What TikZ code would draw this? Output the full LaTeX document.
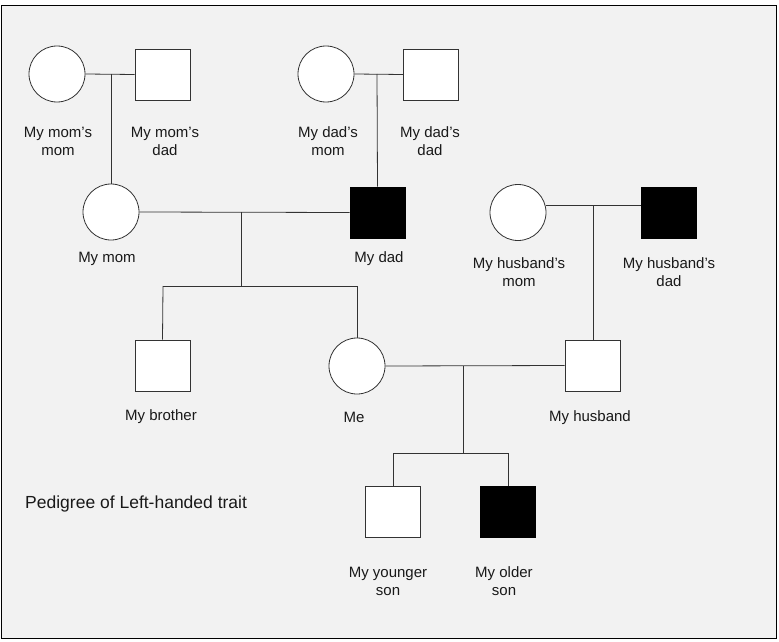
\documentclass[tikz,border=0pt]{standalone}
\usepackage{fontspec}
\setmainfont{Liberation Sans}
\definecolor{bgc}{HTML}{F2F2F2}
\definecolor{linec}{HTML}{333333}
\begin{document}
\begin{tikzpicture}[x=1pt,y=-1pt,
  female/.style={circle,draw=linec,line width=0.8pt,fill=white,minimum size=56pt,inner sep=0pt},
  male/.style={rectangle,draw=linec,line width=0.8pt,fill=white,minimum width=55pt,minimum height=51pt,inner sep=0pt},
  affected/.style={fill=black,draw=black},
  lbl/.style={font=\fontsize{15}{18}\selectfont,align=center,inner sep=0pt,text=black!90},
  conn/.style={draw=linec,line width=0.8pt}]
\useasboundingbox (0,0) rectangle (779,642);
\fill[white] (0,0) rectangle (779,642);
\draw[fill=bgc,line width=0.8pt] (1,5) rectangle (776,638);
% generation I
\node[female] (mm) at (57,74) {};
\node[male] (md) at (162.5,74.5) {};
\node[female] (dm) at (326,74) {};
\node[male] (dd) at (431,74.5) {};
% generation II
\node[female] (mom) at (111,212) {};
\node[male,affected] (dad) at (377.5,212.5) {};
\node[female] (hm) at (518,212.5) {};
\node[male,affected] (hd) at (669,212.5) {};
% generation III
\node[male] (bro) at (162.5,365.5) {};
\node[female] (me) at (357,366) {};
\node[male] (hus) at (592.5,365.5) {};
% generation IV
\node[male] (ys) at (393,512) {};
\node[male,affected] (os) at (508,512) {};
% labels
\node[lbl] (lmm) at (58,141) {My mom’s\\mom};
\node[lbl] (lmd) at (165,141) {My mom’s\\dad};
\node[lbl] (ldm) at (328,141) {My dad’s\\mom};
\node[lbl] (ldd) at (430,141) {My dad’s\\dad};
\node[lbl] (lmom) at (107,259) {My mom};
\node[lbl] (ldad) at (379,259) {My dad};
\node[lbl] (lhm) at (519,272) {My husband’s\\mom};
\node[lbl] (lhd) at (669,272) {My husband’s\\dad};
\node[lbl] (lbro) at (161,417) {My brother};
\node[lbl] (lme) at (354,417) {Me};
\node[lbl] (lhus) at (590,418) {My husband};
\node[lbl] (lys) at (388,581) {My younger\\son};
\node[lbl] (los) at (504,581) {My older\\son};
\node[lbl,anchor=west,font=\fontsize{17.5}{20}\selectfont] (title) at (25,504) {Pedigree of Left-handed trait};
% couple junctions
\coordinate (j1) at (111,74);
\coordinate (j2) at (377,74);
\coordinate (j3) at (241,212);
\coordinate (s3) at (241,286);
\coordinate (s3l) at (163,286);
\coordinate (s3r) at (357,286);
\coordinate (j4) at (593.5,205);
\coordinate (j5) at (463,366);
\coordinate (s5) at (463,453);
\coordinate (s5l) at (393,453);
\coordinate (s5r) at (508,453);
% connectors
\draw[conn] (mm.east) -- (md.west);
\draw[conn] (j1) -- (mom.north);
\draw[conn] (dm.east) -- (dd.west);
\draw[conn] (j2) -- (dad.north);
\draw[conn] (mom.east) -- (dad.west);
\draw[conn] (j3) -- (s3);
\draw[conn] (s3l) -- (s3r);
\draw[conn] (s3l) -- (bro.north);
\draw[conn] (s3r) -- (me.north);
\draw[conn] (hm.east |- j4) -- (hd.west |- j4);
\draw[conn] (j4) -- (hus.north -| j4);
\draw[conn] (me.east) -- (hus.west);
\draw[conn] (j5) -- (s5);
\draw[conn] (s5l) -- (s5r);
\draw[conn] (s5l) -- (ys.north);
\draw[conn] (s5r) -- (os.north);
\end{tikzpicture}
\end{document}
